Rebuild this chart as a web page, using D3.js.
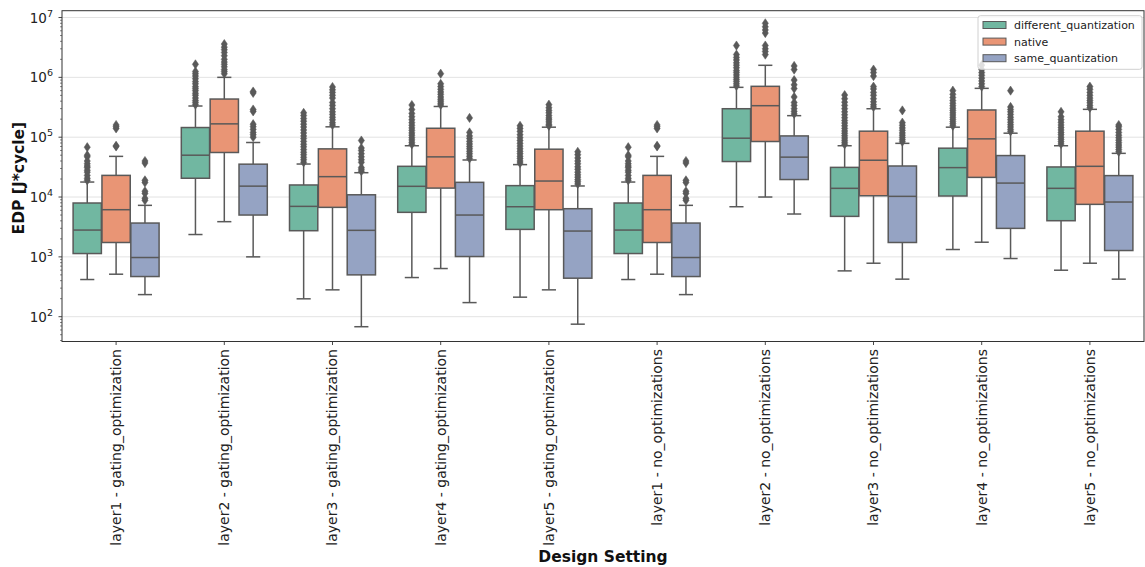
<!DOCTYPE html>
<html>
<head>
<meta charset="utf-8">
<script src="https://cdn.jsdelivr.net/npm/d3@7"></script>
<style>
  body { margin: 0; background: #fff; }
  svg { display: block; font-family: "DejaVu Sans", sans-serif; }
</style>
</head>
<body>
<svg id="chart" width="1145" height="567"></svg>
<script>
// ---- data -------------------------------------------------------------
const categories = [
  "layer1 - gating_optimization", "layer2 - gating_optimization",
  "layer3 - gating_optimization", "layer4 - gating_optimization",
  "layer5 - gating_optimization", "layer1 - no_optimizations",
  "layer2 - no_optimizations", "layer3 - no_optimizations",
  "layer4 - no_optimizations", "layer5 - no_optimizations"
];
const seriesNames = ["different_quantization", "native", "same_quantization"];
const seriesColors = ["#71b7a1", "#e99575", "#95a3c3"];

// per category: [lower whisker, q1, median, q3, upper whisker]
const diffStats = [
  [418, 1136, 2805, 7943, 17800],
  [2362, 20600, 50000, 145000, 332000],
  [199, 2735, 6980, 15900, 35600],
  [451, 5546, 15100, 32600, 72000],
  [212, 2878, 6886, 15500, 34800],
  [418, 1136, 2805, 7943, 17800],
  [6886, 39200, 96200, 299000, 681000],
  [583, 4750, 13970, 31300, 72000],
  [1327, 10400, 31000, 65500, 147000],
  [598, 4018, 13970, 31800, 72000]
];
const nativeStats = [
  [513, 1738, 6140, 23000, 47800],
  [3873, 55500, 167000, 434000, 1000000],
  [281, 6720, 21900, 63800, 149000],
  [638, 14100, 46900, 141000, 326000],
  [281, 6140, 18500, 63000, 147000],
  [513, 1738, 6140, 23000, 47800],
  [10000, 84700, 336000, 708000, 1590000],
  [783, 10500, 41200, 126000, 299000],
  [1757, 21300, 93800, 285000, 655000],
  [783, 7540, 32600, 126000, 292000]
];
const sameStats = [
  [234, 469, 975, 3673, 7260],
  [1000, 5000, 15200, 35400, 81500],
  [68, 500, 2775, 10900, 25500],
  [172, 1013, 5000, 17600, 41600],
  [75, 440, 2700, 6380, 15300],
  [234, 469, 975, 3673, 7260],
  [5200, 19600, 46400, 105000, 229000],
  [424, 1738, 10260, 33000, 78900],
  [938, 2993, 17100, 49300, 116700],
  [424, 1276, 8250, 22800, 53700]
];

// points beyond the whiskers
const diffOutliers = [
  [19000, 20500, 23000, 26000, 28000, 31000, 33000, 36000, 40000, 47000, 50000, 68000],
  [350000, 380000, 410000, 450000, 500000, 540000, 600000, 650000, 700000, 780000, 850000, 950000, 1050000, 1150000, 1250000, 1650000],
  [38000, 42000, 46000, 51000, 56000, 62000, 69000, 76000, 85000, 95000, 105000, 118000, 132000, 148000, 165000, 185000, 205000, 230000, 255000],
  [76000, 82000, 90000, 98000, 108000, 118000, 130000, 143000, 158000, 175000, 195000, 220000, 250000, 290000, 345000],
  [37000, 40000, 44000, 48000, 53000, 58000, 64000, 71000, 79000, 88000, 98000, 110000, 125000, 140000, 155000],
  [19000, 20500, 23000, 26000, 28000, 31000, 33000, 36000, 40000, 47000, 50000, 68000],
  [720000, 780000, 850000, 920000, 1000000, 1100000, 1200000, 1300000, 1450000, 1600000, 1750000, 1950000, 2150000, 2400000, 3400000],
  [76000, 82000, 89000, 97000, 106000, 116000, 127000, 140000, 155000, 172000, 190000, 212000, 237000, 265000, 300000, 340000, 385000, 440000, 505000],
  [155000, 168000, 182000, 198000, 215000, 235000, 255000, 280000, 305000, 335000, 370000, 410000, 460000, 520000, 600000],
  [77000, 84000, 92000, 100000, 110000, 120000, 132000, 145000, 160000, 177000, 196000, 220000, 265000]
];
const nativeOutliers = [
  [70000, 72000, 140000, 150000, 160000],
  [1150000, 1250000, 1350000, 1500000, 1650000, 1800000, 2000000, 2300000, 2600000, 2900000, 3200000, 3600000],
  [160000, 175000, 195000, 215000, 240000, 265000, 300000, 340000, 380000, 450000, 500000, 560000, 620000, 690000],
  [345000, 370000, 400000, 430000, 470000, 520000, 570000, 630000, 700000, 780000, 1150000],
  [155000, 165000, 180000, 195000, 210000, 230000, 255000, 280000, 310000, 350000],
  [70000, 72000, 140000, 150000, 160000],
  [2400000, 2700000, 3000000, 3400000, 5500000, 6200000, 7000000, 8000000],
  [320000, 350000, 390000, 440000, 500000, 560000, 640000, 700000, 1050000, 1200000, 1350000],
  [700000, 780000, 870000, 970000, 1080000, 1200000, 1350000, 1600000],
  [310000, 340000, 375000, 410000, 450000, 500000, 560000, 630000, 700000]
];
const sameOutliers = [
  [8800, 9500, 11500, 12500, 17500, 19000, 37000, 40000],
  [100000, 110000, 120000, 135000, 150000, 165000, 270000, 290000, 550000, 580000],
  [27000, 29000, 31000, 38000, 42000, 47000, 53000, 60000, 66000, 88000],
  [44000, 48000, 53000, 58000, 64000, 70000, 77000, 85000, 95000, 105000, 120000, 210000],
  [16500, 18000, 19500, 21500, 23500, 26000, 29000, 32000, 36000, 40000, 45000, 51000, 57000],
  [8800, 9500, 11500, 12500, 17500, 19000, 37000, 40000],
  [245000, 270000, 300000, 340000, 380000, 470000, 650000, 750000, 900000, 1350000, 1550000],
  [84000, 91000, 99000, 108000, 118000, 130000, 143000, 158000, 175000, 280000],
  [125000, 135000, 148000, 162000, 178000, 196000, 215000, 240000, 265000, 290000, 320000, 600000],
  [57000, 62000, 68000, 74000, 81000, 89000, 98000, 108000, 120000, 135000, 150000, 160000]
];

const yDomain = [38.5, 1.3e7];
const yMajorTicks = [1e2, 1e3, 1e4, 1e5, 1e6, 1e7];

// ---- layout -----------------------------------------------------------
const plot = { left: 62, right: 1144, top: 10.7, bottom: 341.5 };
const edge = "#595959";

const svg = d3.select("#chart");

const x = d3.scaleBand().domain(categories).range([plot.left, plot.right]).padding(0);
const bw = x.bandwidth();
const hue = d3.scaleBand().domain(seriesNames).range([-0.4 * bw, 0.4 * bw]).padding(0);
const boxW = hue.bandwidth() * 0.98;
const y = d3.scaleLog().domain(yDomain).range([plot.bottom, plot.top]);

// horizontal grid
svg.append("g").selectAll("line").data(yMajorTicks).join("line")
  .attr("x1", plot.left).attr("x2", plot.right)
  .attr("y1", d => y(d)).attr("y2", d => y(d))
  .attr("stroke", "#e3e3e3").attr("stroke-width", 1);

// ---- boxes --------------------------------------------------------------
const statSets = [diffStats, nativeStats, sameStats];
const outlierSets = [diffOutliers, nativeOutliers, sameOutliers];
const diamond = "M0,-4.6L3.1,0L0,4.6L-3.1,0Z";

const boxes = [];
seriesNames.forEach((s, si) => {
  categories.forEach((c, ci) => {
    boxes.push({ cat: c, series: s, si, stats: statSets[si][ci], out: outlierSets[si][ci] });
  });
});

const g = svg.append("g");
boxes.forEach(b => {
  const cx = x(b.cat) + bw / 2 + hue(b.series) + hue.bandwidth() / 2;
  const [lo, q1, med, q3, hi] = b.stats;
  const bg = g.append("g");
  // whiskers
  bg.append("line").attr("x1", cx).attr("x2", cx).attr("y1", y(q3)).attr("y2", y(hi))
    .attr("stroke", edge).attr("stroke-width", 1.5);
  bg.append("line").attr("x1", cx).attr("x2", cx).attr("y1", y(q1)).attr("y2", y(lo))
    .attr("stroke", edge).attr("stroke-width", 1.5);
  // caps
  [lo, hi].forEach(v => {
    bg.append("line").attr("x1", cx - boxW / 4).attr("x2", cx + boxW / 4)
      .attr("y1", y(v)).attr("y2", y(v)).attr("stroke", edge).attr("stroke-width", 1.5);
  });
  // box
  bg.append("rect").attr("x", cx - boxW / 2).attr("width", boxW)
    .attr("y", y(q3)).attr("height", y(q1) - y(q3))
    .attr("fill", seriesColors[b.si]).attr("stroke", edge).attr("stroke-width", 1.5);
  // median
  bg.append("line").attr("x1", cx - boxW / 2).attr("x2", cx + boxW / 2)
    .attr("y1", y(med)).attr("y2", y(med)).attr("stroke", edge).attr("stroke-width", 1.5);
  // fliers
  bg.selectAll("path").data(b.out).join("path")
    .attr("d", diamond)
    .attr("transform", v => `translate(${cx},${y(v)})`)
    .attr("fill", edge).attr("stroke", edge).attr("stroke-width", 0.5);
});

// ---- axes ---------------------------------------------------------------
const axisColor = "#333";
// frame
svg.append("rect").attr("x", plot.left).attr("y", plot.top)
  .attr("width", plot.right - plot.left).attr("height", plot.bottom - plot.top)
  .attr("fill", "none").attr("stroke", axisColor).attr("stroke-width", 1);

// y major ticks + labels
const yAxis = svg.append("g");
yMajorTicks.forEach(t => {
  const yy = y(t);
  yAxis.append("line").attr("x1", plot.left - 3.5).attr("x2", plot.left)
    .attr("y1", yy).attr("y2", yy).attr("stroke", axisColor).attr("stroke-width", 0.9);
  const exp = Math.round(Math.log10(t));
  const txt = yAxis.append("text").attr("x", plot.left - 9).attr("y", yy + 5)
    .attr("text-anchor", "end").attr("font-size", 13.5).attr("fill", "#222");
  txt.append("tspan").text("10");
  txt.append("tspan").attr("dy", -6).attr("font-size", 9.5).text(exp);
});
// y minor ticks
for (let e = 1; e <= 7; e++) {
  for (let m = 2; m <= 9; m++) {
    const v = m * Math.pow(10, e);
    if (v < yDomain[0] || v > yDomain[1]) continue;
    yAxis.append("line").attr("x1", plot.left - 2).attr("x2", plot.left)
      .attr("y1", y(v)).attr("y2", y(v)).attr("stroke", axisColor).attr("stroke-width", 0.6);
  }
}

// x ticks + rotated labels
const xAxis = svg.append("g");
categories.forEach(c => {
  const cx = x(c) + bw / 2;
  xAxis.append("line").attr("x1", cx).attr("x2", cx)
    .attr("y1", plot.bottom).attr("y2", plot.bottom + 3.5)
    .attr("stroke", axisColor).attr("stroke-width", 0.9);
  xAxis.append("text")
    .attr("transform", `translate(${cx},${plot.bottom + 7.5}) rotate(-90)`)
    .attr("text-anchor", "end").attr("dy", "0.35em")
    .attr("font-size", 14).attr("fill", "#222").text(c);
});

// axis titles
svg.append("text").attr("x", (plot.left + plot.right) / 2).attr("y", 562)
  .attr("text-anchor", "middle").attr("font-weight", "bold").attr("font-size", 15.5)
  .attr("fill", "#111").text("Design Setting");
svg.append("text").attr("transform", `translate(24,${(plot.top + plot.bottom) / 2 + 2}) rotate(-90)`)
  .attr("text-anchor", "middle").attr("font-weight", "bold").attr("font-size", 15.5)
  .attr("fill", "#111").text("EDP [J*cycle]");

// ---- legend -------------------------------------------------------------
const lg = svg.append("g").attr("transform", "translate(978,15.7)");
lg.append("rect").attr("width", 164).attr("height", 53.6).attr("rx", 2.5)
  .attr("fill", "#fff").attr("fill-opacity", 0.8).attr("stroke", "#d0d0d0").attr("stroke-width", 1);
seriesNames.forEach((s, i) => {
  const row = lg.append("g").attr("transform", `translate(5,${9.3 + i * 16.6})`);
  row.append("rect").attr("x", 0).attr("y", -3.5).attr("width", 23).attr("height", 7)
    .attr("fill", seriesColors[i]).attr("stroke", edge).attr("stroke-width", 1);
  row.append("text").attr("x", 31).attr("y", 4).attr("font-size", 11)
    .attr("fill", "#222").text(s);
});
</script>
</body>
</html>
